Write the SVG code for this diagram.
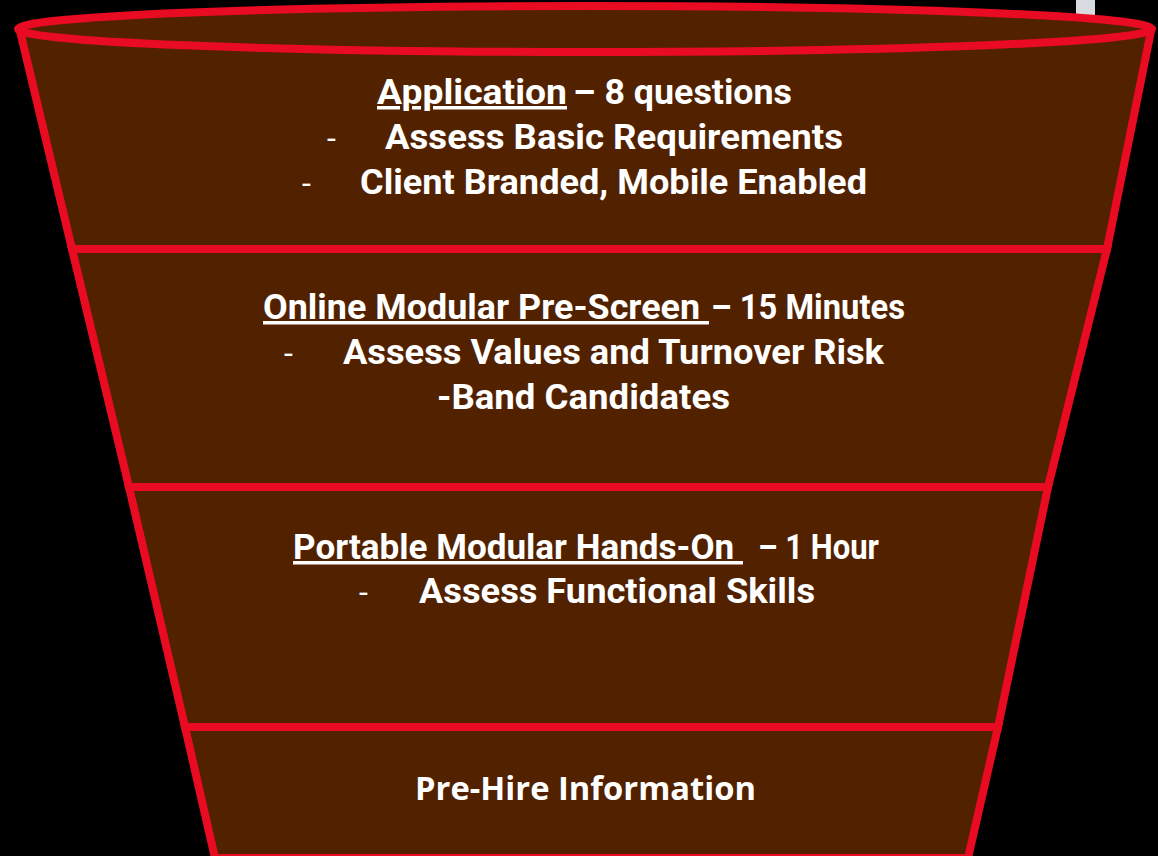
<svg xmlns="http://www.w3.org/2000/svg" width="1158" height="856" viewBox="0 0 1158 856">
  <style>
    .stage { fill: #522200; stroke: #E90B22; stroke-width: 8; stroke-linejoin: miter; }
    .t { font-family: Roboto, "Liberation Sans", sans-serif; font-weight: 700; font-size: 35px; fill: #FFFFFF; }
    .u { text-decoration: underline; }
    .dash { font-family: Roboto, "Liberation Sans", sans-serif; font-weight: 400; font-size: 32px; fill: #FFFFFF; }
    .plain { font-family: "Open Sans", "Liberation Sans", sans-serif; font-weight: 700; font-size: 32px; fill: #FFFFFF; }
  </style>
  <rect x="0" y="0" width="1158" height="856" fill="#000000"/>
  <rect x="1076" y="0" width="19" height="16" fill="#D8DCE0"/>

  <!-- bottom stage -->
  <g id="stage-prehire">
    <polygon class="stage" points="185,727 998,727 968,858 215,858"/>
    <text class="plain" x="415" y="800" textLength="341" lengthAdjust="spacingAndGlyphs">Pre-Hire Information</text>
  </g>

  <g id="stage-handson">
    <polygon class="stage" points="129,487 1048,487 998,727 185,727"/>
    <text class="t u" x="293" y="559" textLength="450" lengthAdjust="spacingAndGlyphs" xml:space="preserve">Portable Modular Hands-On </text>
    <text class="t" x="758" y="559" textLength="121" lengthAdjust="spacingAndGlyphs">– 1 Hour</text>
    <text class="dash" x="359" y="603">-</text>
    <text class="t" x="419" y="603" textLength="396" lengthAdjust="spacingAndGlyphs">Assess Functional Skills</text>
  </g>

  <g id="stage-prescreen">
    <polygon class="stage" points="72,249 1107,249 1048,487 129,487"/>
    <text class="t u" x="263" y="319" textLength="446" lengthAdjust="spacingAndGlyphs" xml:space="preserve">Online Modular Pre-Screen </text>
    <text class="t" x="711" y="319" textLength="194" lengthAdjust="spacingAndGlyphs">– 15 Minutes</text>
    <text class="dash" x="284" y="364">-</text>
    <text class="t" x="343" y="364" textLength="541" lengthAdjust="spacingAndGlyphs">Assess Values and Turnover Risk</text>
    <text class="t" x="437" y="409" textLength="293" lengthAdjust="spacingAndGlyphs">-Band Candidates</text>
  </g>

  <g id="stage-application">
    <polygon class="stage" points="20,31 1151,31 1107,249 72,249"/>
    <ellipse class="stage" cx="585" cy="29" rx="567" ry="23"/>
    <text class="t u" x="377" y="104" textLength="190" lengthAdjust="spacingAndGlyphs">Application</text>
    <text class="t" x="573" y="104" textLength="219" lengthAdjust="spacingAndGlyphs">– 8 questions</text>
    <text class="dash" x="327" y="149">-</text>
    <text class="t" x="385" y="149" textLength="458" lengthAdjust="spacingAndGlyphs">Assess Basic Requirements</text>
    <text class="dash" x="302" y="194">-</text>
    <text class="t" x="360" y="194" textLength="507" lengthAdjust="spacingAndGlyphs">Client Branded, Mobile Enabled</text>
  </g>
</svg>
